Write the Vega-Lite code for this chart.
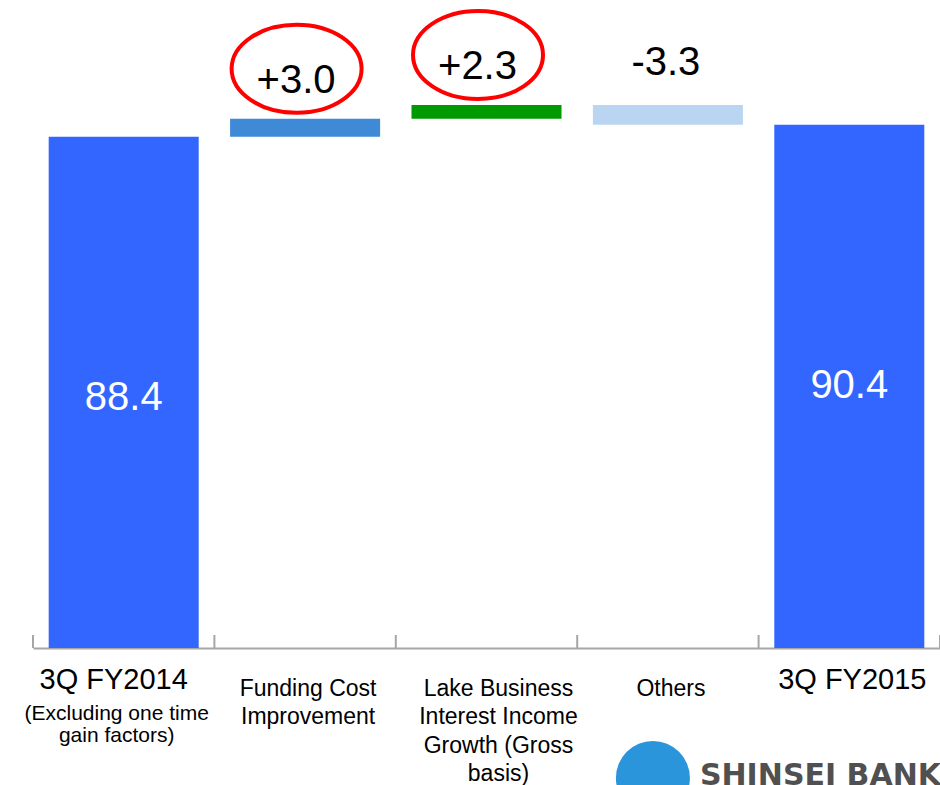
{
  "$schema": "https://vega.github.io/schema/vega-lite/v6.json",
  "width": 907,
  "height": 648,
  "autosize": {"type": "none"},
  "padding": {"left": 33, "top": 0, "right": 0, "bottom": 137},
  "background": "white",
  "config": {"view": {"stroke": null}, "font": "Liberation Sans"},
  "data": {
    "values": [
      {"category": "3Q FY2014", "axisLabel": "3Q FY2014", "kind": "total", "start": 0, "end": 88.4, "label": "88.4", "note": "(Excluding one time\ngain factors)", "circled": false},
      {"category": "Funding Cost Improvement", "axisLabel": "Funding Cost\nImprovement", "kind": "increase", "start": 88.4, "end": 91.4, "label": "+3.0", "circled": true},
      {"category": "Lake Business Interest Income Growth (Gross basis)", "axisLabel": "Lake Business\nInterest Income\nGrowth (Gross\nbasis)", "kind": "increase", "start": 91.4, "end": 93.7, "label": "+2.3", "circled": true},
      {"category": "Others", "axisLabel": "Others", "kind": "decrease", "start": 93.7, "end": 90.4, "label": "-3.3", "circled": false},
      {"category": "3Q FY2015", "axisLabel": "3Q FY2015", "kind": "total", "start": 0, "end": 90.4, "label": "90.4", "circled": false}
    ]
  },
  "encoding": {
    "x": {
      "field": "category",
      "type": "nominal",
      "sort": null,
      "scale": {"paddingInner": 0, "paddingOuter": 0},
      "axis": {
        "title": null,
        "labels": false,
        "ticks": false,
        "grid": false,
        "domainColor": "#A6A6A6",
        "domainWidth": 2
      }
    }
  },
  "layer": [
    {
      "mark": {"type": "bar", "width": {"band": 0.827}, "clip": true},
      "encoding": {
        "y": {"field": "end", "type": "quantitative", "scale": {"domain": [3.2, 111.2], "nice": false, "zero": false}, "axis": null},
        "y2": {"field": "start"},
        "color": {
          "field": "category",
          "type": "nominal",
          "scale": {
            "domain": ["3Q FY2014", "Funding Cost Improvement", "Lake Business Interest Income Growth (Gross basis)", "Others", "3Q FY2015"],
            "range": ["#3366FF", "#3E8AD6", "#009900", "#BAD5F2", "#3366FF"]
          },
          "legend": null
        }
      }
    },
    {
      "mark": {"type": "rule", "color": "#A6A6A6", "strokeWidth": 2, "xOffset": -90.7},
      "encoding": {
        "y": {"datum": 3.2, "type": "quantitative"},
        "y2": {"datum": 5.37}
      }
    },
    {
      "transform": [{"filter": "datum.category == '3Q FY2015'"}],
      "mark": {"type": "rule", "color": "#A6A6A6", "strokeWidth": 2, "xOffset": 90.7},
      "encoding": {
        "y": {"datum": 3.2, "type": "quantitative"},
        "y2": {"datum": 5.37}
      }
    },
    {
      "transform": [{"filter": "datum.kind == 'total'"}],
      "mark": {"type": "text", "fontSize": 40, "color": "white", "baseline": "alphabetic", "dy": 273},
      "encoding": {
        "y": {"field": "end", "type": "quantitative"},
        "text": {"field": "label"}
      }
    },
    {
      "transform": [{"filter": "datum.kind == 'increase'"}],
      "mark": {"type": "text", "fontSize": 40, "color": "black", "baseline": "alphabetic", "dy": -26, "dx": -9},
      "encoding": {
        "y": {"field": "end", "type": "quantitative"},
        "text": {"field": "label"}
      }
    },
    {
      "transform": [{"filter": "datum.kind == 'decrease'"}],
      "mark": {"type": "text", "fontSize": 40, "color": "black", "baseline": "alphabetic", "dy": -30, "dx": -2},
      "encoding": {
        "y": {"field": "start", "type": "quantitative"},
        "text": {"field": "label"}
      }
    },
    {
      "transform": [{"filter": "datum.circled"}],
      "mark": {
        "type": "point",
        "shape": "M -1 0 C -1 -0.374 -0.5523 -0.677 0 -0.677 C 0.5523 -0.677 1 -0.374 1 0 C 1 0.374 0.5523 0.677 0 0.677 C -0.5523 0.677 -1 0.374 -1 0 Z",
        "size": 16900,
        "filled": false,
        "stroke": "#FF0000",
        "strokeWidth": 4,
        "opacity": 1,
        "xOffset": -8.5,
        "yOffset": -50
      },
      "encoding": {
        "y": {"field": "end", "type": "quantitative"}
      }
    },
    {
      "transform": [{"filter": "datum.category == '3Q FY2014'"}],
      "mark": {"type": "text", "fontSize": 29, "color": "black", "baseline": "alphabetic", "dy": 41, "dx": -10},
      "encoding": {
        "y": {"datum": 3.2, "type": "quantitative"},
        "text": {"field": "axisLabel"}
      }
    },
    {
      "transform": [{"filter": "datum.category == '3Q FY2015'"}],
      "mark": {"type": "text", "fontSize": 29, "color": "black", "baseline": "alphabetic", "dy": 41, "dx": 3},
      "encoding": {
        "y": {"datum": 3.2, "type": "quantitative"},
        "text": {"field": "axisLabel"}
      }
    },
    {
      "transform": [{"filter": "datum.category == 'Funding Cost Improvement' || datum.category == 'Others'"}],
      "mark": {"type": "text", "fontSize": 23, "color": "black", "baseline": "alphabetic", "lineBreak": "\n", "lineHeight": 28.5, "dy": 47.5, "dx": 3},
      "encoding": {
        "y": {"datum": 3.2, "type": "quantitative"},
        "text": {"field": "axisLabel"}
      }
    },
    {
      "transform": [{"filter": "datum.category == 'Lake Business Interest Income Growth (Gross basis)'"}],
      "mark": {"type": "text", "fontSize": 23, "color": "black", "baseline": "alphabetic", "lineBreak": "\n", "lineHeight": 28.5, "dy": 47.5, "dx": 12},
      "encoding": {
        "y": {"datum": 3.2, "type": "quantitative"},
        "text": {"field": "axisLabel"}
      }
    },
    {
      "transform": [{"filter": "isValid(datum.note)"}],
      "mark": {"type": "text", "fontSize": 21, "color": "black", "baseline": "alphabetic", "lineBreak": "\n", "lineHeight": 22, "dy": 72, "dx": -7},
      "encoding": {
        "y": {"datum": 3.2, "type": "quantitative"},
        "text": {"field": "note"}
      }
    },
    {
      "data": {"values": [{"logo": "SHINSEI BANK"}]},
      "mark": {"type": "point", "shape": "circle", "filled": true, "size": 5476, "color": "#2A95DA", "opacity": 1, "xOffset": -15, "yOffset": 130},
      "encoding": {
        "x": {"datum": "Others", "type": "nominal"},
        "y": {"datum": 3.2, "type": "quantitative"}
      }
    },
    {
      "data": {"values": [{"logo": "SHINSEI BANK"}]},
      "mark": {"type": "text", "font": "DejaVu Sans", "fontWeight": "bold", "fontSize": 30, "color": "#505050", "align": "left", "baseline": "alphabetic", "dx": 32, "dy": 137},
      "encoding": {
        "x": {"datum": "Others", "type": "nominal"},
        "y": {"datum": 3.2, "type": "quantitative"},
        "text": {"field": "logo"}
      }
    }
  ]
}
